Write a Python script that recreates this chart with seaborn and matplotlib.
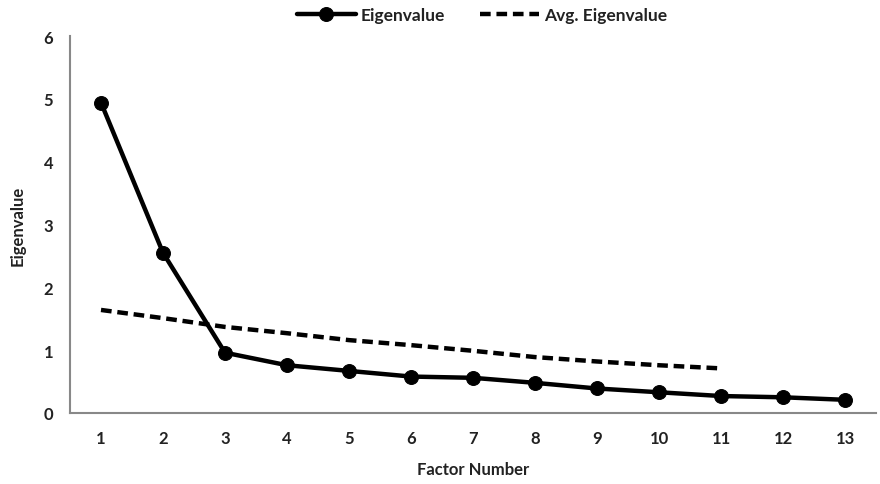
import numpy as np
import pandas as pd
import matplotlib.pyplot as plt
import seaborn as sns

# 数据
factors = list(range(1, 14))
eigenvalues = [4.94, 2.55, 0.96, 0.76, 0.67, 0.58, 0.56, 0.48, 0.39, 0.33, 0.27, 0.25, 0.21]
avg_factors = list(range(1, 12))
avg_eigenvalues = [1.64, 1.51, 1.37, 1.27, 1.16, 1.08, 0.99, 0.89, 0.82, 0.76, 0.71]

df_eig = pd.DataFrame({"Factor": factors, "Eigenvalue": eigenvalues})
df_avg = pd.DataFrame({"Factor": avg_factors, "Eigenvalue": avg_eigenvalues})

sns.set_style("white")
plt.rcParams['font.family'] = ['Lato', 'DejaVu Sans']
plt.rcParams['font.weight'] = 'bold'
plt.rcParams['text.color'] = '#222222'
plt.rcParams['xtick.labelcolor'] = '#222222'
plt.rcParams['ytick.labelcolor'] = '#222222'

fig = plt.figure(figsize=(8.8, 4.85), dpi=100)
ax = fig.add_axes([70 / 880, 71 / 485, 806 / 880, 377 / 485])

sns.lineplot(data=df_eig, x="Factor", y="Eigenvalue", ax=ax, color="black",
             linewidth=3.2, marker="o", markersize=10, markeredgecolor="black",
             label="Eigenvalue")
sns.lineplot(data=df_avg, x="Factor", y="Eigenvalue", ax=ax, color="black",
             linewidth=3.2, linestyle=(0, (2.4, 1.3)), label="Avg. Eigenvalue")

# 坐标轴
ax.set_xlim(0.5, 13.5)
ax.set_ylim(0, 6)
ax.set_xticks(factors)
ax.set_xticks(np.arange(0.5, 14, 1), minor=True)
ax.set_yticks(range(0, 7))
ax.tick_params(axis='x', which='major', length=0, pad=12, labelsize=12)
ax.tick_params(axis='x', which='minor', length=6, width=1.2, color='#888888', direction='out')
ax.tick_params(axis='y', length=6, width=1.2, color='#888888', direction='out', labelsize=12, pad=6)
for s in ['top', 'right']:
    ax.spines[s].set_visible(False)
for s in ['left', 'bottom']:
    ax.spines[s].set_color('#888888')
    ax.spines[s].set_linewidth(1.5)

ax.set_xlabel("Factor Number", fontsize=12, fontweight='bold', labelpad=11, color='#222222')
ax.set_ylabel("Eigenvalue", fontsize=12, fontweight='bold', labelpad=13, color='#222222')

ax.legend(loc='center', bbox_to_anchor=(482 / 880, 1 - 16 / 485),
          bbox_transform=fig.transFigure, ncol=2, frameon=False,
          fontsize=12.5, handlelength=3.4, columnspacing=2.0, handletextpad=0.3)

plt.savefig("out.png", dpi=100)
